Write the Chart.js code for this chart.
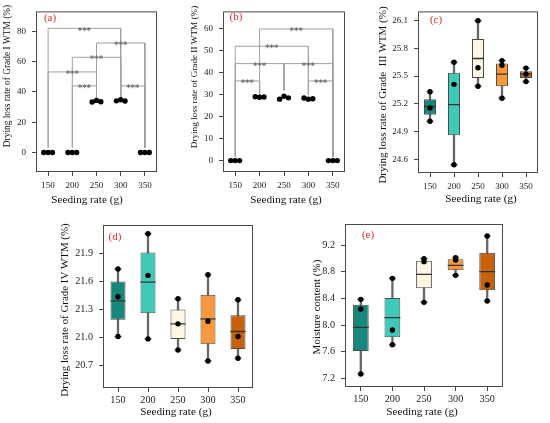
<!DOCTYPE html>
<html>
<head>
<meta charset="utf-8">
<script src="https://cdn.jsdelivr.net/npm/chart.js@4.4.1/dist/chart.umd.min.js"></script>
<style>
body { margin: 0; background: #fff; }
#fig { position: relative; width: 550px; height: 423px; overflow: hidden; background: #fff; }
#fig canvas { position: absolute; }
</style>
</head>
<body>
<div id="fig">
  <canvas id="pa" width="180" height="210" style="left:0;top:0"></canvas>
  <canvas id="pb" width="185" height="210" style="left:180px;top:0"></canvas>
  <canvas id="pc" width="185" height="210" style="left:365px;top:0"></canvas>
  <canvas id="pd" width="275" height="213" style="left:0;top:210px"></canvas>
  <canvas id="pe" width="275" height="213" style="left:275px;top:210px"></canvas>
</div>
<script>
Chart.defaults.font.family = "'Liberation Serif', 'Times New Roman', serif";
Chart.defaults.color = '#222';

const seeding = [150, 200, 250, 300, 350];
const seedLabels = ['150', '200', '250', '300', '350'];
const boxColors = ['#16877b', '#3dcab9', '#fdf6e3', '#f9983b', '#c6610e'];
const jitter = [-9, 0, 9];

// (a) drying loss rate, grade I WTM (3 replicates per seeding rate)
const gradeI = [[0, 0, 0], [0, 0, 0], [33.3, 34.4, 33.5], [34.1, 34.8, 34.0], [0, 0, 0]];
const sigA_from = [150, 250, 200, 150, 200, 300];
const sigA_to = [300, 350, 300, 250, 250, 350];
const sigA_y = [82, 72.3, 62.9, 53.2, 44, 44];
const legA = [3, 3, 36, 36, 3];
const ticksA = [0, 20, 40, 60, 80];

// (b) grade II WTM
const gradeII = [[0, 0, 0], [29.1, 28.9, 29.0], [28.0, 29.3, 28.6], [28.5, 28.0, 28.2], [0, 0, 0]];
const sigB_from = [200, 150, 150, 250, 150, 300];
const sigB_to = [350, 300, 250, 350, 200, 350];
const sigB_y = [60, 52.1, 44.2, 44.2, 36.3, 36.3];
const legB = [1.6, 30, 32, 30, 1.6];
const ticksB = [0, 10, 20, 30, 40, 50, 60];

// (c) grade III WTM boxplots
const minC = [25.01, 24.54, 25.39, 25.26, 25.44];
const q1C = [25.08, 24.86, 25.48, 25.39, 25.478];
const medC = [25.17, 25.19, 25.69, 25.52, 25.524];
const q3C = [25.25, 25.535, 25.90, 25.635, 25.553];
const maxC = [25.33, 25.65, 26.10, 25.667, 25.586];
const meanC = [25.155, 25.41, 25.59, 25.617, 25.521];
const ticksC = [24.6, 24.9, 25.2, 25.5, 25.8, 26.1];

// (d) grade IV WTM boxplots
const minD = [21.007, 20.982, 20.864, 20.746, 20.775];
const q1D = [21.186, 21.257, 20.982, 20.925, 20.875];
const medD = [21.389, 21.589, 21.143, 21.196, 21.061];
const q3D = [21.596, 21.907, 21.296, 21.454, 21.236];
const maxD = [21.729, 22.107, 21.411, 21.668, 21.40];
const meanD = [21.432, 21.661, 21.143, 21.171, 21.007];
const ticksD = [20.7, 21.0, 21.3, 21.6, 21.9];

// (e) moisture content boxplots
const minE = [7.265, 7.705, 8.34, 8.745, 8.36];
const q1E = [7.61, 7.815, 8.55, 8.82, 8.52];
const medE = [7.965, 8.11, 8.76, 8.895, 8.80];
const q3E = [8.305, 8.405, 8.965, 8.985, 9.085];
const maxE = [8.385, 8.70, 8.995, 9.01, 9.335];
const meanE = [8.24, 7.925, 8.95, 8.975, 8.60];
const ticksE = [7.2, 7.6, 8.0, 8.4, 8.8, 9.2];

const tickGrid = {display: true, drawOnChartArea: false, tickLength: 4, tickColor: '#444', lineWidth: 1, offset: false};

// frame, significance stars, panel tag and axis titles
const decor = {
  id: 'decor',
  afterDatasetsDraw(chart, args, o) {
    const {ctx, chartArea: a, scales} = chart;
    ctx.save();
    if (o.sig) {
      ctx.fillStyle = '#6e6e6e';
      ctx.font = "bold 8.5px 'DejaVu Sans'";
      ctx.textAlign = 'center';
      ctx.textBaseline = 'alphabetic';
      o.sig.from.forEach((f, i) => {
        const x = scales.x.getPixelForValue((f + o.sig.to[i]) / 2);
        const y = scales.y.getPixelForValue(o.sig.y[i]);
        ctx.fillText('***', x, y + 5.2);
      });
    }
    ctx.strokeStyle = '#4a4a4a';
    ctx.lineWidth = 1;
    ctx.strokeRect(a.left + 0.5, a.top + 0.5, a.right - a.left - 1, a.bottom - a.top - 1);
    ctx.restore();
  },
  afterDraw(chart, args, o) {
    const ctx = chart.ctx;
    ctx.save();
    ctx.textAlign = 'center';
    ctx.textBaseline = 'middle';
    ctx.fillStyle = '#e3262c';
    ctx.font = "11px 'Liberation Serif'";
    ctx.fillText(o.tag, o.tagPos[0], o.tagPos[1]);
    ctx.fillStyle = '#111';
    ctx.font = o.xSize + "px 'Liberation Serif'";
    ctx.fillText('Seeding rate (g)', o.xPos[0], o.xPos[1]);
    ctx.translate(o.yPos[0], o.yPos[1]);
    ctx.rotate(-Math.PI / 2);
    ctx.font = o.ySize + "px 'Liberation Serif'";
    ctx.fillText(o.yTitle, 0, 0);
    ctx.restore();
  }
};

function makeScales(g) {
  const x = {
    grid: tickGrid,
    border: {display: false},
    ticks: {font: {size: g.fs}, color: '#222', padding: g.xpad, maxRotation: 0, autoSkip: false},
    afterFit: s => { s.height = g.xh; }
  };
  if (g.linearX) {
    Object.assign(x, {
      type: 'linear', min: 125, max: 375,
      afterBuildTicks: s => { s.ticks = seeding.map(v => ({value: v})); }
    });
  } else {
    x.offset = true;
  }
  const y = {
    type: 'linear', min: g.yMin, max: g.yMax,
    grid: tickGrid,
    border: {display: false},
    ticks: {font: {size: g.fs}, color: '#222', padding: 6, callback: v => v.toFixed(g.dec)},
    afterBuildTicks: s => { s.ticks = g.yTicks.map(v => ({value: v})); },
    afterFit: s => { s.width = g.yw; }
  };
  return {x, y};
}

function commonOptions(g, decorOpts) {
  return {
    responsive: false,
    animation: false,
    events: [],
    layout: {autoPadding: false, padding: {left: 0, top: g.top, right: g.padR, bottom: 0}},
    plugins: {legend: {display: false}, tooltip: {enabled: false}, decor: decorOpts},
    scales: makeScales(g)
  };
}

function bracketSets(from, to, lvl, legs) {
  return from.map((f, i) => ({
    type: 'line', showLine: true, pointRadius: 0, borderColor: '#a0a0a0', borderWidth: 1, order: 1,
    data: [
      {x: f, y: legs[seeding.indexOf(f)]}, {x: f, y: lvl[i]},
      {x: to[i], y: lvl[i]}, {x: to[i], y: legs[seeding.indexOf(to[i])]}
    ]
  }));
}

function dotChart(id, values, from, to, lvl, legs, g, decorOpts) {
  const pts = seeding.flatMap((s, k) => values[k].map((v, j) => ({x: s + jitter[j], y: v})));
  decorOpts.sig = {from: from, to: to, y: lvl};
  return new Chart(document.getElementById(id), {
    type: 'scatter',
    data: {
      datasets: [
        {data: pts, pointRadius: 2.7, pointBackgroundColor: '#000', pointBorderWidth: 0, order: 0}
      ].concat(bracketSets(from, to, lvl, legs))
    },
    options: commonOptions(Object.assign({linearX: true}, g), decorOpts),
    plugins: [decor]
  });
}

function boxChart(id, mins, q1s, meds, q3s, maxs, means, g, decorOpts) {
  const halfBox = c => (c.chart.chartArea ? (c.chart.chartArea.right - c.chart.chartArea.left) / seedLabels.length / 4 : 4);
  const dot = {type: 'line', showLine: false, pointRadius: 2.7, pointBackgroundColor: '#000', pointBorderWidth: 0, order: 0};
  const cap = {type: 'line', showLine: false, pointStyle: 'line', pointRadius: 3.5, pointBorderColor: '#555', pointBorderWidth: 1.2, order: 1};
  return new Chart(document.getElementById(id), {
    type: 'bar',
    data: {
      labels: seedLabels,
      datasets: [
        Object.assign({data: means}, dot),
        Object.assign({data: maxs}, dot),
        Object.assign({data: mins}, dot),
        Object.assign({data: maxs}, cap),
        Object.assign({data: mins}, cap),
        {type: 'line', data: meds, showLine: false, pointStyle: 'line', pointRadius: halfBox,
         pointBorderColor: '#333', pointBorderWidth: 1.3, order: 2},
        {data: q1s.map((v, i) => [v, q3s[i]]), backgroundColor: boxColors, borderColor: '#4d4d4d',
         borderWidth: 1, borderSkipped: false, barPercentage: 0.5, categoryPercentage: 1, grouped: false, order: 3},
        {data: mins.map((v, i) => [v, maxs[i]]), backgroundColor: '#666', barThickness: 1.6,
         grouped: false, order: 4}
      ]
    },
    options: commonOptions(g, decorOpts),
    plugins: [decor]
  });
}

dotChart('pa', gradeI, sigA_from, sigA_to, sigA_y, legA,
  {yMin: -12.9, yMax: 93.2, yTicks: ticksA, dec: 0, fs: 9, yw: 36, top: 7, padR: 23, xh: 38, xpad: 4},
  {tag: '(a)', tagPos: [50, 18], xPos: [87, 200.5], xSize: 11.2, yPos: [8, 76], ySize: 9.4,
   yTitle: 'Drying loss rate of Grade I WTM (%)'});

dotChart('pb', gradeII, sigB_from, sigB_to, sigB_y, legB,
  {yMin: -5.2, yMax: 68, yTicks: ticksB, dec: 0, fs: 9, yw: 43, top: 7, padR: 20, xh: 38, xpad: 4},
  {tag: '(b)', tagPos: [56, 17], xPos: [106, 200], xSize: 11.2, yPos: [15, 77], ySize: 9.2,
   yTitle: 'Drying loss rate of Grade II WTM (%)'});

boxChart('pc', minC, q1C, medC, q3C, maxC, meanC,
  {yMin: 24.45, yMax: 26.2, yTicks: ticksC, dec: 1, fs: 9, yw: 53, top: 9, padR: 12, xh: 37, xpad: 4},
  {tag: '(c)', tagPos: [71, 20], xPos: [116, 199], xSize: 11.2, yPos: [18, 95], ySize: 11,
   yTitle: 'Drying loss rate of Grade  III WTM (%)'});

boxChart('pd', minD, q1D, medD, q3D, maxD, meanD,
  {yMin: 20.457, yMax: 22.2, yTicks: ticksD, dec: 1, fs: 10.2, yw: 103, top: 15, padR: 22, xh: 35, xpad: 2},
  {tag: '(d)', tagPos: [115, 27], xPos: [176, 202], xSize: 11.2, yPos: [65, 100], ySize: 10.9,
   yTitle: 'Drying loss rate of Grade IV WTM (%)'});

boxChart('pe', minE, q1E, medE, q3E, maxE, meanE,
  {yMin: 7.07, yMax: 9.515, yTicks: ticksE, dec: 1, fs: 10.2, yw: 70, top: 14, padR: 47, xh: 36, xpad: 2},
  {tag: '(e)', tagPos: [93, 25], xPos: [147, 202], xSize: 11.2, yPos: [42, 97], ySize: 11.1,
   yTitle: 'Moisture content (%)'});
</script>
</body>
</html>
